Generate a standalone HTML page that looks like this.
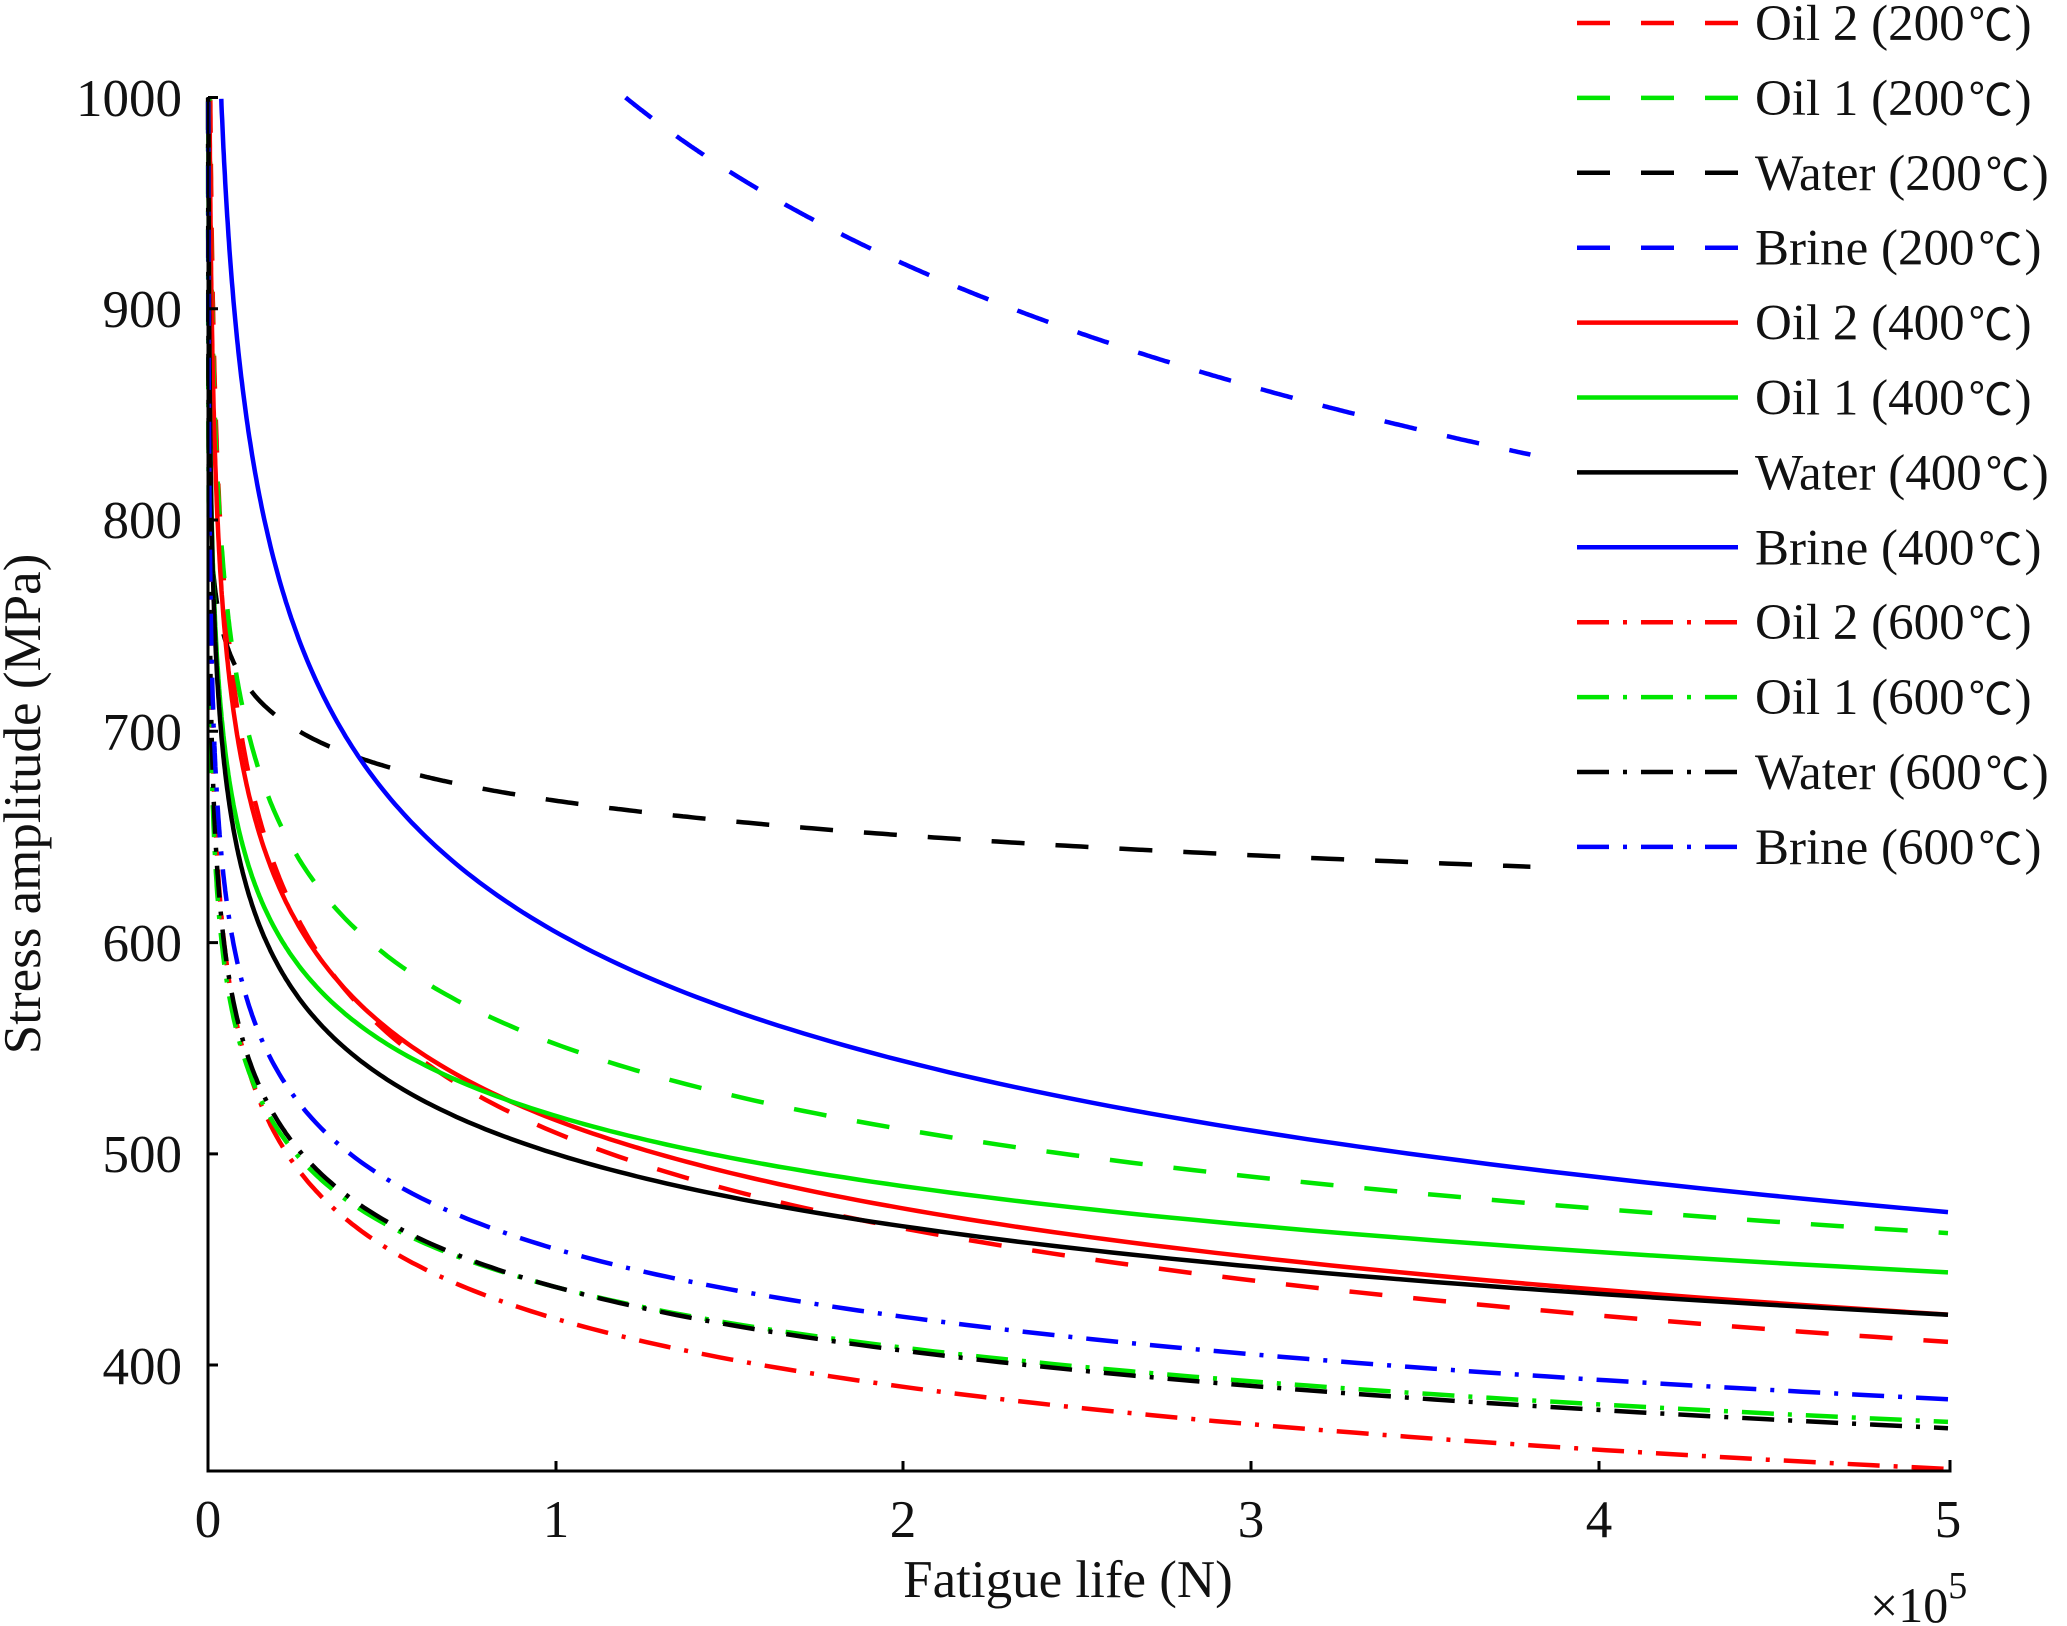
<!DOCTYPE html>
<html><head><meta charset="utf-8"><style>
body{margin:0;background:#fff}
svg{display:block}
text{font-family:"Liberation Serif",serif;fill:#111}
</style></head><body>
<svg id="s" width="2067" height="1626" xmlns="http://www.w3.org/2000/svg">
<g id="curves"></g>
<g stroke="#000" stroke-width="3" fill="none">
<path d="M208,97 V1471 H1950 V1460"/>
<path d="M556,1471 v-10 M903,1471 v-10 M1251,1471 v-10 M1599,1471 v-10"/>
<path d="M208,97.5 h10 M208,308.8 h10 M208,520 h10 M208,731.3 h10 M208,942.6 h10 M208,1153.9 h10 M208,1365 h10"/>
</g>
<g font-size="53" text-anchor="end">
<text x="182" y="116">1000</text><text x="182" y="327">900</text><text x="182" y="538">800</text>
<text x="182" y="750">700</text><text x="182" y="961">600</text><text x="182" y="1172">500</text><text x="182" y="1384">400</text>
</g>
<g font-size="53" text-anchor="middle">
<text x="208" y="1537">0</text><text x="556" y="1537">1</text><text x="903" y="1537">2</text>
<text x="1251" y="1537">3</text><text x="1599" y="1537">4</text><text x="1948" y="1537">5</text>
<text x="1068" y="1597">Fatigue life (N)</text>
<text transform="translate(40,804) rotate(-90)">Stress amplitude (MPa)</text>
</g>
<text x="1870" y="1622" font-size="50">×10<tspan font-size="38" dy="-24">5</tspan></text>
<g id="legend" font-size="51"></g>
</svg>
<script>
const X=n=>208+n/5e5*1740, Y=s=>97.5+(1000-s)*2.113;
const R='#ff0000',G='#00e600',K='#000',B='#0000ff';
const DASH='33 31', DD='32 14 4 14';
const series=[
 ['Oil 2 (200',R,DASH,n=>510*Math.pow(n/1e5,-0.134),1,5e5],
 ['Oil 1 (200',G,DASH,n=>552*Math.pow(n/1e5,-0.1098),1,5e5],
 ['Water (200',K,DASH,n=>684*Math.pow(n/5e4,-0.0359),1500,3.8e5],
 ['Brine (200',B,DASH,n=>1000*Math.pow(n/1.2e5,-0.1606),1.2e5,3.8e5],
 ['Oil 2 (400',R,'',n=>516*Math.pow(n/1e5,-0.122),1,5e5],
 ['Oil 1 (400',G,'',n=>518*Math.pow(n/1e5,-0.0958),1,5e5],
 ['Water (400',K,'',n=>500*Math.pow(n/1e5,-0.1025),1,5e5],
 ['Brine (400',B,'',n=>605*Math.pow(n/1e5,-0.1536),1,5e5],
 ['Oil 2 (600',R,DD,n=>422*Math.pow(n/1e5,-0.1146),1,5e5],
 ['Oil 1 (600',G,DD,n=>437*Math.pow(n/1e5,-0.098),1,5e5],
 ['Water (600',K,DD,n=>437*Math.pow(n/1e5,-0.103),1,5e5],
 ['Brine (600',B,DD,n=>455*Math.pow(n/1e5,-0.1055),1,5e5],
];
let cg='',lg='';
series.forEach((s,i)=>{
 const [name,c,d,f,a,b]=s; let pts=[];
 for(let k=0;k<=600;k++){const n=a*Math.pow(b/a,k/600);let v=f(n);if(v>1000)continue;pts.push(X(n).toFixed(1)+','+Y(v).toFixed(1));}
 cg+=`<polyline points="${pts.join(' ')}" fill="none" stroke="${c}" stroke-width="4.5" ${d?`stroke-dasharray="${d}"`:''}/>`;
 const y=23+74.9*i;
 lg+=`<line x1="1577" x2="1738" y1="${y}" y2="${y}" stroke="${c}" stroke-width="4.5" ${d?`stroke-dasharray="${d}"`:''}/>`;
 lg+=`<text x="1755" y="${y+17}">${name}<tspan font-family="Noto Sans CJK SC, sans-serif" font-size="44" dx="4">℃</tspan><tspan dx="2">)</tspan></text>`;
});
document.getElementById('curves').innerHTML=cg;
document.getElementById('legend').innerHTML=lg;
</script>
</body></html>
